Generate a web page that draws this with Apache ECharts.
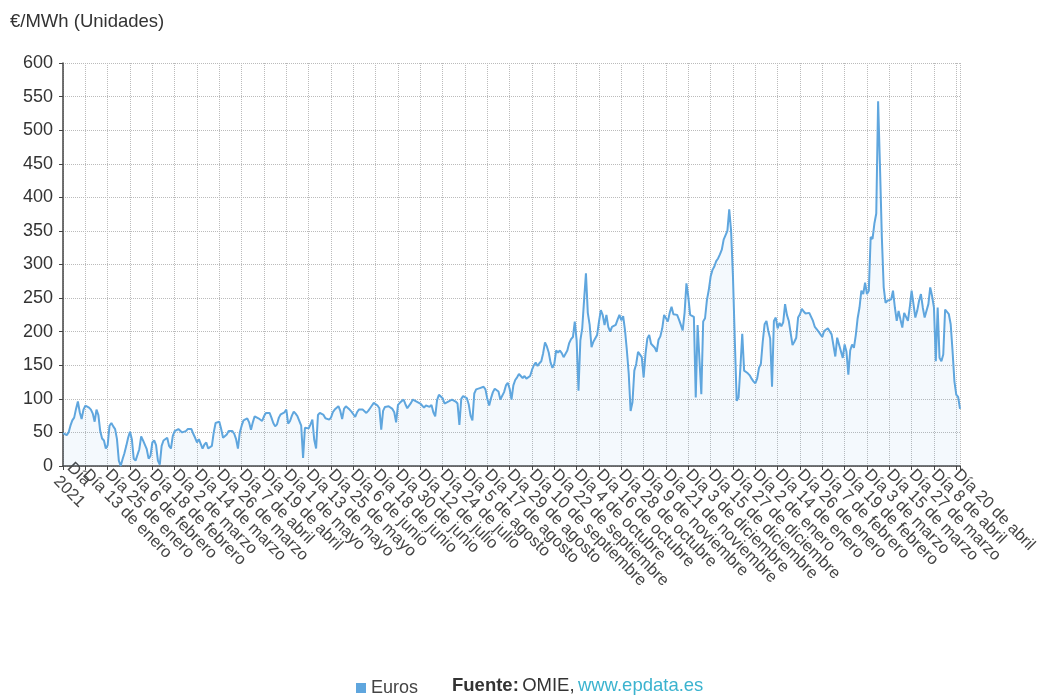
<!DOCTYPE html>
<html>
<head>
<meta charset="utf-8">
<script src="https://cdn.jsdelivr.net/npm/echarts@6/dist/echarts.min.js"></script>
<style>
html,body{margin:0;padding:0;background:#fff;}
#chart{width:1044px;height:699px;}
</style>
</head>
<body>
<div id="chart"></div>
<script>
const tickLabels = [
  "Día\n2021","Día 13 de enero","Día 25 de enero","Día 6 de febrero","Día 18 de febrero",
  "Día 2 de marzo","Día 14 de marzo","Día 26 de marzo","Día 7 de abril","Día 19 de abril",
  "Día 1 de mayo","Día 13 de mayo","Día 25 de mayo","Día 6 de junio","Día 18 de junio",
  "Día 30 de junio","Día 12 de julio","Día 24 de julio","Día 5 de agosto","Día 17 de agosto",
  "Día 29 de agosto","Día 10 de septiembre","Día 22 de septiembre","Día 4 de octubre","Día 16 de octubre",
  "Día 28 de octubre","Día 9 de noviembre","Día 21 de noviembre","Día 3 de diciembre","Día 15 de diciembre",
  "Día 27 de diciembre","Día 2 de enero","Día 14 de enero","Día 26 de enero","Día 7 de febrero",
  "Día 19 de febrero","Día 3 de marzo","Día 15 de marzo","Día 27 de marzo","Día 8 de abril",
  "Día 20 de abril"
];
const labelStep = 12;

const euros = [
  49,48,46,50,60,68,72,85,96,80,70,84,
  90,90,87,84,78,66,84,76,52,41,38,26,
  31,60,64,59,55,40,8,0,10,19,30,42,
  51,40,11,8,6,25,44,38,36,25,11,15,
  35,38,31,8,2,30,38,38,42,30,26,45,
  52,54,55,53,50,49,52,55,56,55,48,42,
  35,40,42,26,32,35,26,26,30,50,64,65,
  66,55,42,44,47,52,54,52,48,40,26,50,
  60,68,70,71,65,54,65,74,72,71,69,67,
  74,79,79,79,72,64,59,62,72,77,79,80,
  84,63,67,75,81,78,74,72,60,12,57,56,
  56,62,69,39,26,76,79,79,76,71,69,69,
  72,80,84,86,89,82,70,85,89,87,84,81,
  77,73,80,84,84,84,82,79,82,86,90,94,
  92,90,86,54,82,88,90,89,87,85,80,65,
  91,94,96,99,92,86,88,94,99,98,96,95,
  93,92,87,90,90,88,91,80,74,98,106,104,
  101,93,94,96,97,99,98,96,93,61,100,104,
  106,101,92,75,68,108,114,115,116,117,118,114,
  100,90,101,110,115,116,111,99,100,110,120,124,
  115,99,120,128,132,137,136,131,134,130,131,134,
  143,150,154,149,153,156,168,184,178,169,154,146,
  152,172,169,172,168,162,162,172,183,189,192,215,
  187,112,187,205,247,287,228,210,177,185,185,195,
  215,232,225,210,225,207,200,207,205,210,218,225,
  217,223,202,172,137,82,95,142,152,170,172,162,
  132,167,190,195,182,182,176,170,188,193,205,225,
  226,215,228,237,226,225,225,218,210,202,228,272,
  252,225,225,222,102,210,212,107,215,220,247,262,
  282,292,297,305,309,315,322,337,335,350,382,350,
  282,187,97,102,147,197,142,140,138,135,130,126,
  123,130,146,152,185,211,216,201,190,118,216,221,
  205,213,208,214,241,225,216,198,180,185,191,221,
  226,234,230,227,226,228,222,216,207,208,200,196,
  192,201,203,205,206,196,198,163,191,193,171,161,
  181,170,136,172,181,176,195,220,236,261,256,273,
  256,261,341,338,361,376,543,446,341,266,243,246,
  248,248,261,236,216,231,218,206,228,226,216,236,
  261,241,221,231,246,256,236,221,221,241,266,253,
  236,156,236,161,156,166,233,231,226,211,171,126,
  106,103,85
];

const categories = euros.map((v, i) => (i % labelStep === 0 && tickLabels[i / labelStep]) ? tickLabels[i / labelStep] : '');

const chart = echarts.init(document.getElementById('chart'), null, {renderer: 'canvas'});
const fontFam = '"Liberation Sans", Arial, Helvetica, sans-serif';
chart.setOption({
  animation: false,
  textStyle: {fontFamily: fontFam},
  title: {
    text: '€/MWh (Unidades)',
    left: 5, top: 7,
    textStyle: {fontSize: 18.5, fontWeight: 'normal', color: '#333', fontFamily: fontFam}
  },
  legend: {
    data: [{name: 'Euros', icon: 'rect'}],
    left: 351, top: 674,
    itemWidth: 10, itemHeight: 10, itemGap: 8,
    textStyle: {fontSize: 18, color: '#444', fontFamily: fontFam}
  },
  graphic: [{
    type: 'text',
    left: 452, top: 676,
    style: {
      rich: {
        b: {fontWeight: 'bold', fontSize: 18.5, fill: '#333', fontFamily: fontFam},
        n: {fontSize: 18.5, fill: '#333', fontFamily: fontFam},
        l: {fontSize: 18.5, fill: '#3bb3cf', fontFamily: fontFam}
      },
      text: '{b|Fuente:} {n|OMIE,} {l|www.epdata.es}'
    }
  }],
  grid: {left: 63, right: 84, top: 63, bottom: 233},
  xAxis: {
    type: 'category',
    data: categories,
    boundaryGap: false,
    axisLine: {lineStyle: {color: '#444', width: 1.5}},
    axisTick: {show: true, interval: labelStep - 1, length: 4, lineStyle: {color: '#444'}},
    axisLabel: {
      interval: 0,
      rotate: -45,
      fontSize: 16.5,
      color: '#444',
      margin: 6,
      lineHeight: 19,
      fontFamily: fontFam
    },
    splitLine: {show: true, interval: labelStep - 1, lineStyle: {type: 'dotted', color: '#bbb', width: 1}}
  },
  yAxis: {
    type: 'value',
    min: 0, max: 600, interval: 50,
    axisLine: {show: true, lineStyle: {color: '#444', width: 1.5}},
    axisTick: {show: true, length: 4, lineStyle: {color: '#444'}},
    axisLabel: {fontSize: 18, color: '#333', margin: 10, fontFamily: fontFam},
    splitLine: {show: true, lineStyle: {type: 'dotted', color: '#bbb', width: 1}}
  },
  series: [{
    name: 'Euros',
    type: 'line',
    data: euros,
    symbol: 'none',
    lineStyle: {color: '#5fa6de', width: 2},
    itemStyle: {color: '#5fa6de'},
    areaStyle: {color: 'rgba(95,166,222,0.10)'}
  }]
});
</script>
</body>
</html>
